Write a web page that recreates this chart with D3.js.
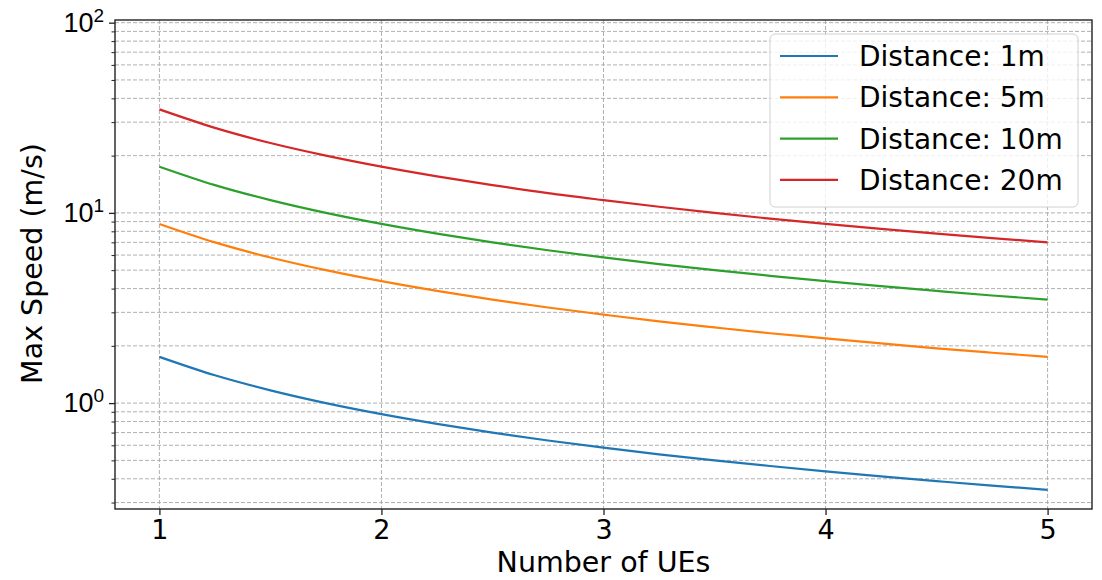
<!DOCTYPE html>
<html><head><meta charset="utf-8">
<script src="https://cdn.jsdelivr.net/npm/d3@7"></script>
<style>body{margin:0;background:#fff}svg{display:block;font-family:"DejaVu Sans",sans-serif}</style>
</head><body><svg id="c" width="1102" height="580"></svg>
<script>
// Data
const ues = [1,1.25,1.5,1.75,2,2.25,2.5,2.75,3,3.25,3.5,3.75,4,4.25,4.5,4.75,5];
const dist1m  = [1.75,1.40,1.167,1.0,0.875,0.778,0.70,0.636,0.583,0.538,0.50,0.467,0.4375,0.412,0.389,0.368,0.35];
const dist5m  = [8.75,7.0,5.83,5.0,4.375,3.89,3.5,3.18,2.92,2.69,2.5,2.33,2.19,2.06,1.94,1.84,1.75];
const dist10m = [17.5,14.0,11.67,10.0,8.75,7.78,7.0,6.36,5.83,5.38,5.0,4.67,4.375,4.12,3.89,3.68,3.5];
const dist20m = [35.0,28.0,23.3,20.0,17.5,15.56,14.0,12.7,11.67,10.77,10.0,9.33,8.75,8.24,7.78,7.37,7.0];
const seriesNames = ["Distance: 1m","Distance: 5m","Distance: 10m","Distance: 20m"];
const seriesColors = ["#1f77b4","#ff7f0e","#2ca02c","#d62728"];
const xTicks = [1,2,3,4,5];
const yMajorTicks = [1,10,100];
const yMajorLabels = [["10","0"],["10","1"],["10","2"]];
const xLabel = "Number of UEs";
const yLabel = "Max Speed (m/s)";

const series = [dist1m, dist5m, dist10m, dist20m];
const svg = d3.select("#c");
const L = 115, T = 20, R = 1092, B = 509;
const x = d3.scaleLinear().domain([0.8, 5.2]).range([L, R]);
const y = d3.scaleLog().domain([0.2775, 103.3]).range([B, T]);

// minor ticks
const yMinor = [];
for (let d = 0.1; d < 200; d *= 10) for (let k = 2; k <= 9; k++) { const v = d*k; if (v > y.domain()[0] && v < y.domain()[1]) yMinor.push(v); }

const grid = svg.append("g").attr("stroke","#b0b0b0").attr("stroke-width",1).attr("stroke-dasharray","4,2").attr("fill","none");
xTicks.forEach(t => grid.append("line").attr("x1",x(t)).attr("x2",x(t)).attr("y1",T).attr("y2",B));
yMajorTicks.concat(yMinor).forEach(t => grid.append("line").attr("x1",L).attr("x2",R).attr("y1",y(t)).attr("y2",y(t)));

// lines
const line = d3.line().x((d,i)=>x(ues[i])).y(d=>y(d)).curve(d3.curveMonotoneX);
series.forEach((s,i) => svg.append("path").datum(s).attr("d",line).attr("fill","none").attr("stroke",seriesColors[i]).attr("stroke-width",2.2));

// axes
const xAxis = d3.axisBottom(x).tickValues(xTicks).tickSize(6).tickPadding(8).tickFormat(d3.format("d"));
const gx = svg.append("g").attr("transform",`translate(0,${B})`).call(xAxis);
gx.select(".domain").remove();
gx.selectAll("text").attr("font-size",27).attr("fill","#000").attr("font-family","DejaVu Sans").attr("y",11);
gx.selectAll("line").attr("stroke","#222").attr("stroke-width",1.3);

const yAxis = d3.axisLeft(y).tickValues(yMajorTicks).tickSize(6).tickFormat("");
const gy = svg.append("g").attr("transform",`translate(${L},0)`).call(yAxis);
gy.select(".domain").remove();
gy.selectAll("line").attr("stroke","#222").attr("stroke-width",1.3);
gy.selectAll(".tick").each(function(d,i){
  const t = d3.select(this).append("text").attr("x",-11).attr("y",8.5).attr("text-anchor","end").attr("fill","#000").attr("font-size",27);
  t.append("tspan").text(yMajorLabels[i][0]);
  t.append("tspan").attr("font-size",19).attr("dy",-10).text(yMajorLabels[i][1]);
});
const yAxisMinor = d3.axisLeft(y).tickValues(yMinor).tickSize(3.5).tickFormat("");
const gym = svg.append("g").attr("transform",`translate(${L},0)`).call(yAxisMinor);
gym.select(".domain").remove();
gym.selectAll("line").attr("stroke","#222").attr("stroke-width",1);

svg.append("rect").attr("x",L).attr("y",T).attr("width",R-L).attr("height",B-T).attr("fill","none").attr("stroke","#222").attr("stroke-width",1.4);

// labels
svg.append("text").attr("x",(L+R)/2).attr("y",572).attr("text-anchor","middle").attr("font-size",28.5).text(xLabel);
svg.append("text").attr("transform",`translate(42,263.5) rotate(-90)`).attr("text-anchor","middle").attr("font-size",28.5).text(yLabel);

// legend
const lg = svg.append("g");
lg.append("rect").attr("x",770).attr("y",34).attr("width",308).attr("height",173).attr("rx",5).attr("fill","#fff").attr("fill-opacity",0.8).attr("stroke","#d0d0d0").attr("stroke-width",1);
seriesNames.forEach((n,i) => {
  const yy = 56 + i*41.3;
  lg.append("line").attr("x1",780).attr("x2",838).attr("y1",yy).attr("y2",yy).attr("stroke",seriesColors[i]).attr("stroke-width",2.2);
  lg.append("text").attr("x",859).attr("y",yy+10).attr("font-size",28).text(n);
});
</script></body></html>
